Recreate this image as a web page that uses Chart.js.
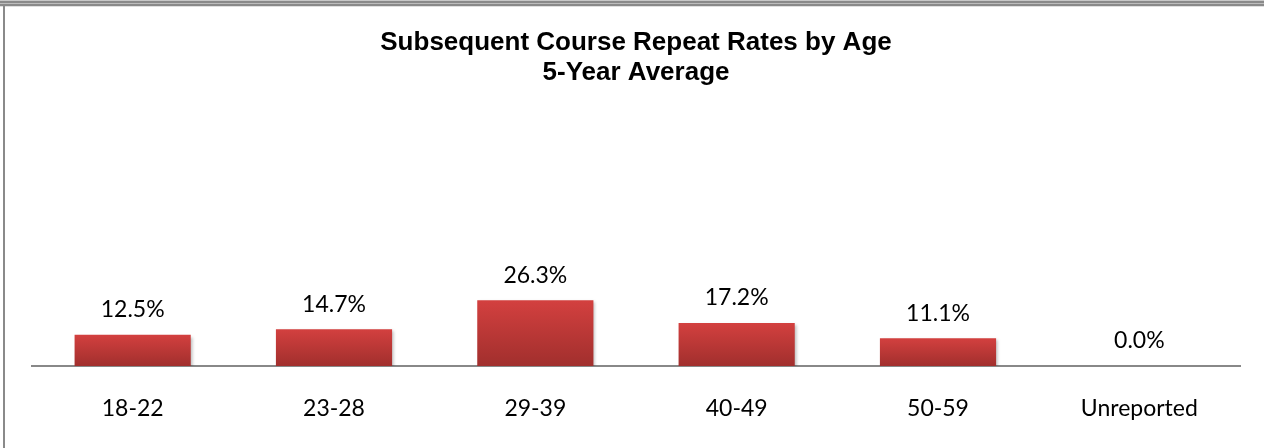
<!DOCTYPE html>
<html>
<head>
<meta charset="utf-8">
<script src="https://cdn.jsdelivr.net/npm/chart.js@4/dist/chart.umd.min.js"></script>
<style>
  html, body { margin: 0; padding: 0; background: #fff; }
  #wrap { position: relative; width: 1264px; height: 448px; overflow: hidden; }
  #topband { position: absolute; left: 0; top: 0; width: 1264px; height: 7px;
    background: linear-gradient(#c8c8c8 0px, #c8c8c8 1px, #8a8a8a 1px, #8a8a8a 3px, #bdbdbd 3px, #bdbdbd 4px, #8a8a8a 4px, #8a8a8a 6px, #e0e0e0 6px, #e0e0e0 7px); }
  #leftband { position: absolute; left: 3px; top: 6px; width: 2px; height: 442px; background: #8a8a8a; }
  canvas { position: absolute; left: 0; top: 0; }
</style>
</head>
<body>
<div id="wrap">
  <canvas id="graph1" width="1264" height="448"></canvas>
  <div id="topband"></div>
  <div id="leftband"></div>
</div>
<script>
var ageGroups = ['18-22', '23-28', '29-39', '40-49', '50-59', 'Unreported'];
var repeatRates = [12.5, 14.7, 26.3, 17.2, 11.1, 0.0];
var titleLines = ['Subsequent Course Repeat Rates by Age', '5-Year Average'];

var labelFont = 'Lato, "Open Sans", sans-serif';

// gradient per bar, lighter red at the top
function barGradient(context) {
    var chart = context.chart;
    if (!chart.chartArea || context.dataIndex === undefined) return '#c43a38';
    var y = chart.scales.y;
    var top = y.getPixelForValue(context.raw);
    var bottom = y.getPixelForValue(0);
    if (bottom - top < 1) return '#c43a38';
    var g = chart.ctx.createLinearGradient(0, top, 0, bottom);
    g.addColorStop(0, '#d3403f');
    g.addColorStop(1, '#a12f2d');
    return g;
}

var valueLabels = {
    id: 'valueLabels',
    afterDatasetsDraw: function(chart) {
        var ctx = chart.ctx;
        var meta = chart.getDatasetMeta(0);
        ctx.save();
        ctx.font = '23px ' + labelFont;
        ctx.fillStyle = '#000';
        ctx.textAlign = 'center';
        ctx.textBaseline = 'middle';
        meta.data.forEach(function(bar, i) {
            ctx.fillText(repeatRates[i].toFixed(1) + '%', bar.x, bar.y - 25);
        });
        ctx.restore();
    }
};

var barShadow = {
    id: 'barShadow',
    beforeDatasetsDraw: function(chart) {
        var ctx = chart.ctx;
        ctx.save();
        ctx.shadowColor = 'rgba(0,0,0,0.25)';
        ctx.shadowBlur = 3;
        ctx.shadowOffsetX = 2;
        ctx.shadowOffsetY = 2;
    },
    afterDatasetsDraw: function(chart) {
        chart.ctx.restore();
    }
};

var ctx = document.getElementById('graph1').getContext('2d');
var graph1 = new Chart(ctx, {
    type: 'bar',
    data: {
        labels: ageGroups,
        datasets: [{
            label: 'Repeat rate',
            data: repeatRates,
            backgroundColor: barGradient,
            borderWidth: 0,
            categoryPercentage: 1,
            barPercentage: 0.577
        }]
    },
    options: {
        responsive: false,
        animation: false,
        layout: { padding: { left: 32, right: 24, top: 0, bottom: 27 } },
        plugins: {
            legend: { display: false },
            tooltip: { enabled: false },
            title: {
                display: true,
                text: titleLines,
                color: '#000',
                font: { family: '"Liberation Sans", Arial, sans-serif', size: 26, weight: 'bold', lineHeight: '30px' },
                padding: { top: 28, bottom: 28 }
            }
        },
        scales: {
            y: { display: false, min: 0, max: 100 },
            x: {
                grid: { display: false, drawTicks: false },
                border: { color: '#888', width: 2 },
                ticks: { color: '#000', font: { family: labelFont, size: 23 }, padding: 29 },
                afterFit: function(scale) { scale.height = 55; }
            }
        }
    },
    plugins: [barShadow, valueLabels]
});
</script>
</body>
</html>
